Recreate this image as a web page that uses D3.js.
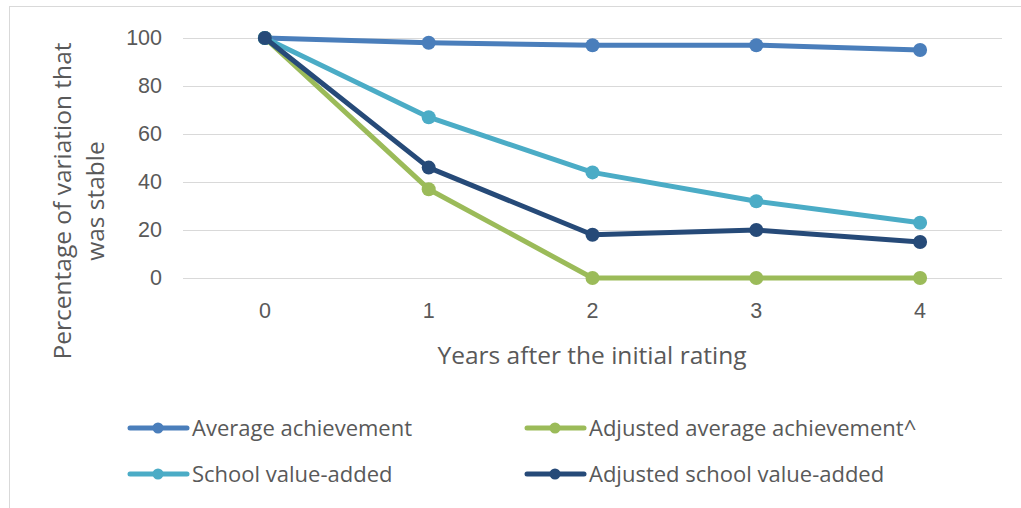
<!DOCTYPE html>
<html><head><meta charset="utf-8">
<script src="https://cdn.jsdelivr.net/npm/d3@7"></script>
<style>body{margin:0;background:#fff}svg{display:block;font-family:"Open Sans",sans-serif}</style>
</head><body><svg id="c" width="1021" height="508"></svg>
<script>
const categories = ["0","1","2","3","4"];
const seriesNames = ["Average achievement","Adjusted average achievement^","School value-added","Adjusted school value-added"];
const averageAchievement = [100,98,97,97,95];
const adjustedAverageAchievement = [100,37,0,0,0];
const schoolValueAdded = [100,67,44,32,23];
const adjustedSchoolValueAdded = [100,46,18,20,15];
const yTicks = [0,20,40,60,80,100];
const colors = ["#4a7ebb","#9bbb59","#4bacc6","#264a78"];
const seriesData = [averageAchievement, adjustedAverageAchievement, schoolValueAdded, adjustedSchoolValueAdded];

const svg = d3.select("#c");
svg.append("rect").attr("x",9.5).attr("y",6.5).attr("width",1030).attr("height",520)
  .attr("fill","#fff").attr("stroke","#d9d9d9").attr("stroke-width",1);

const x = d3.scaleBand().domain(categories).range([183,1002]);
const y = d3.scaleLinear().domain([0,100]).range([278,38]);
const cx = d => x(d) + x.bandwidth()/2;

const g = svg.append("g");
g.selectAll("line.grid").data(yTicks).join("line")
  .attr("x1",183).attr("x2",1002).attr("y1",d=>Math.round(y(d))+0.5).attr("y2",d=>Math.round(y(d))+0.5)
  .attr("stroke","#d9d9d9").attr("stroke-width",1);

const yAxis = g.append("g").attr("transform","translate(183,0)").call(d3.axisLeft(y).tickValues(yTicks).tickSize(0).tickPadding(21));
yAxis.select(".domain").remove();
yAxis.selectAll("text").attr("font-size",21.5).attr("fill","#595959").attr("font-family","inherit");

const xAxis = g.append("g").attr("transform","translate(0,300)").call(d3.axisBottom(x).tickSize(0).tickPadding(3));
xAxis.select(".domain").remove();
xAxis.selectAll("text").attr("font-size",21.5).attr("fill","#595959").attr("font-family","inherit");

svg.append("text").attr("x",592).attr("y",364).attr("text-anchor","middle").attr("font-size",24.5).attr("fill","#595959").text("Years after the initial rating");
const yt = svg.append("text").attr("transform","translate(71,201) rotate(-90)").attr("text-anchor","middle").attr("font-size",24.5).attr("fill","#595959");
yt.append("tspan").attr("x",0).attr("dy",0).text("Percentage of variation that");
yt.append("tspan").attr("x",0).attr("dy",33).text("was stable");

const line = d3.line().x((d,i)=>cx(categories[i])).y(d=>y(d));
seriesData.forEach((s,k)=>{
  const sg = svg.append("g");
  sg.append("path").datum(s).attr("d",line).attr("fill","none").attr("stroke",colors[k]).attr("stroke-width",5).attr("stroke-linejoin","round");
  sg.selectAll("circle").data(s).join("circle").attr("cx",(d,i)=>cx(categories[i])).attr("cy",d=>y(d)).attr("r",7).attr("fill",colors[k]);
});

const legendPos = [[130,428],[527,428],[130,474],[527,474]];
seriesNames.forEach((n,k)=>{
  const [lx,ly] = legendPos[k];
  const lg = svg.append("g");
  lg.append("line").attr("x1",lx).attr("x2",lx+57).attr("y1",ly).attr("y2",ly).attr("stroke",colors[k]).attr("stroke-width",5).attr("stroke-linecap","round");
  lg.append("circle").attr("cx",lx+28).attr("cy",ly).attr("r",5.5).attr("fill",colors[k]);
  lg.append("text").attr("x",lx+62).attr("y",ly+8).attr("font-size",22).attr("fill","#595959").text(n);
});
</script></body></html>
